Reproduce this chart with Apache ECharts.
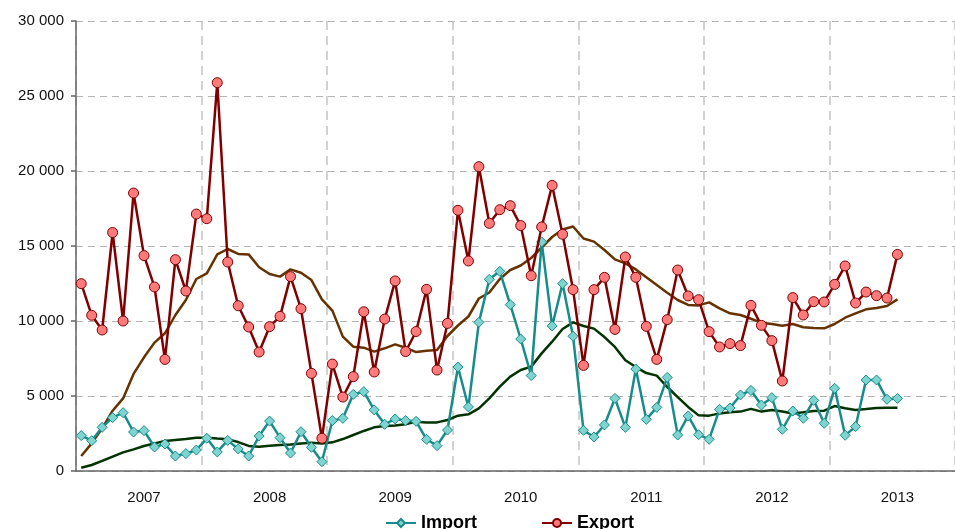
<!DOCTYPE html>
<html>
<head>
<meta charset="utf-8">
<title>Import / Export</title>
<script src="https://cdn.jsdelivr.net/npm/echarts@6/dist/echarts.min.js"></script>
<style>
  html, body { margin: 0; padding: 0; background: #fff; }
  #chart { width: 955px; height: 529px; }
</style>
</head>
<body>
<div id="chart"></div>
<script>
// years shown on the x axis, 12 months each
const years = ['2007', '2008', '2009', '2010', '2011', '2012', '2013']

// monthly values (79 months)
const importVals = [
  2360, 2020, 2910, 3560, 3890, 2600, 2690, 1600, 1800, 1000, 1160, 1400,
  2180, 1270, 2040, 1470, 1000, 2330, 3330, 2220, 1200, 2620, 1580, 620,
  3360, 3510, 5110, 5290, 4070, 3110, 3470, 3360, 3310, 2110, 1690, 2730,
  6930, 4270, 9910, 12780, 13310, 11090, 8800, 6360, 15270, 9670, 12490, 8980,
  2710, 2270, 3070, 4840, 2910, 6800, 3440, 4240, 6240, 2400, 3670, 2420,
  2110, 4110, 4200, 5070, 5370, 4400, 4890, 2780, 4000, 3510, 4710, 3180,
  5510, 2380, 2960, 6070, 6070, 4780, 4840
]

const exportVals = [
  12490, 10380, 9400, 15900, 10000, 18530, 14360, 12270, 7440, 14090, 12000, 17130,
  16820, 25890, 13930, 11020, 9600, 7930, 9620, 10310, 12960, 10820, 6510, 2180,
  7130, 4930, 6290, 10620, 6600, 10130, 12670, 7960, 9300, 12110, 6730, 9840,
  17380, 14000, 20290, 16510, 17420, 17690, 16360, 13020, 16270, 19040, 15780, 12090,
  7040, 12090, 12910, 9440, 14270, 12910, 9640, 7440, 10090, 13400, 11670, 11420,
  9290, 8270, 8490, 8360, 11040, 9710, 8690, 6000, 11560, 10400, 11290, 11270,
  12440, 13670, 11200, 11930, 11690, 11530, 14440
]

// smoothed trend lines (no legend entry)
const importTrend = [
  220, 400, 670, 960, 1240, 1440, 1670, 1840, 2000, 2070, 2130, 2220,
  2220, 2160, 2110, 1930, 1670, 1620, 1690, 1730, 1760, 1840, 1890, 1840,
  1910, 2130, 2400, 2670, 2910, 3000, 3040, 3110, 3290, 3240, 3240, 3400,
  3690, 3780, 4180, 4840, 5620, 6290, 6730, 6960, 7840, 8620, 9470, 9910,
  9670, 9490, 8930, 8270, 7380, 6930, 6530, 6360, 5600, 4930, 4270, 3710,
  3690, 3840, 3910, 3960, 4140, 3960, 4070, 3960, 3840, 3910, 4000, 4020,
  4330, 4180, 4070, 4130, 4200, 4220, 4220
]

const exportTrend = [
  1000, 1840, 2840, 4020, 4840, 6470, 7580, 8560, 9180, 10400, 11400, 12800,
  13180, 14440, 14800, 14470, 14440, 13580, 13130, 12960, 13440, 13220, 12730, 11440,
  10690, 8960, 8290, 8220, 7960, 8180, 8440, 8220, 7930, 8020, 8070, 9000,
  9700, 10300, 11500, 11900, 12800, 13400, 13700, 14200, 14900, 15600, 16100, 16300,
  15500, 15290, 14730, 14110, 13840, 13440, 12910, 12400, 11890, 11400, 11070, 11040,
  11240, 10840, 10510, 10400, 10150, 9890, 9800, 9690, 9800, 9580, 9530, 9510,
  9800, 10220, 10510, 10780, 10870, 11000, 11440
]

// month categories, label shown once per year
const months = []
years.forEach(y => {
  for (let m = 1; m <= 12; m++) months.push(y + '-' + (m < 10 ? '0' + m : m))
})

const font = '"Liberation Sans", Arial, sans-serif'

const chart = echarts.init(document.getElementById('chart'))

const option = {
  animation: false,
  grid: {
    left: 76,
    right: 0,
    top: 21,
    bottom: 58
  },
  legend: {
    data: ['Import', 'Export'],
    left: 380,
    top: 509,
    itemWidth: 30,
    itemHeight: 10,
    itemGap: 64,
    textStyle: {
      fontFamily: font,
      fontSize: 18,
      fontWeight: 'bold',
      color: '#000'
    }
  },
  xAxis: {
    type: 'category',
    data: months,
    boundaryGap: true,
    axisLine: { lineStyle: { color: '#666', width: 1.5 } },
    axisTick: {
      interval: (idx) => idx % 12 === 0,
      length: 5,
      lineStyle: { color: '#666', width: 1.5 }
    },
    axisLabel: {
      interval: (idx) => idx % 12 === 6,
      formatter: (v) => v.slice(0, 4),
      margin: 19,
      fontFamily: font,
      fontSize: 15,
      color: '#111'
    },
    splitLine: {
      show: true,
      interval: (idx) => idx % 12 === 0,
      lineStyle: { color: '#c4c4c4', width: 1.5, type: [9, 6] }
    }
  },
  yAxis: {
    type: 'value',
    min: 0,
    max: 30000,
    interval: 5000,
    axisLine: { show: true, lineStyle: { color: '#666', width: 1.5 } },
    axisTick: { show: true, length: 5, lineStyle: { color: '#666', width: 1.5 } },
    axisLabel: {
      margin: 12,
      fontFamily: font,
      fontSize: 15,
      color: '#111',
      formatter: (v) => v === 0 ? '0' : (v / 1000) + ' 000'
    },
    splitLine: {
      lineStyle: { color: '#b4b4b4', width: 1, type: [7, 5] }
    }
  },
  series: [
    {
      name: 'Export trend',
      type: 'line',
      data: exportTrend,
      symbol: 'none',
      lineStyle: { color: '#663300', width: 2.5 },
      z: 1
    },
    {
      name: 'Import trend',
      type: 'line',
      data: importTrend,
      symbol: 'none',
      lineStyle: { color: '#003300', width: 2.5 },
      z: 1
    },
    {
      name: 'Import',
      type: 'line',
      data: importVals,
      symbol: 'diamond',
      symbolSize: 10,
      showAllSymbol: true,
      itemStyle: { color: '#7fd4d0', borderColor: '#188b8b', borderWidth: 1 },
      lineStyle: { color: '#188b8b', width: 2.5 },
      z: 2
    },
    {
      name: 'Export',
      type: 'line',
      data: exportVals,
      symbol: 'circle',
      symbolSize: 10,
      showAllSymbol: true,
      itemStyle: { color: '#ff7a7a', borderColor: '#7f0000', borderWidth: 1 },
      lineStyle: { color: '#800000', width: 2.5 },
      z: 3
    }
  ]
}

chart.setOption(option)
window.addEventListener('resize', () => chart.resize())
</script>
</body>
</html>
